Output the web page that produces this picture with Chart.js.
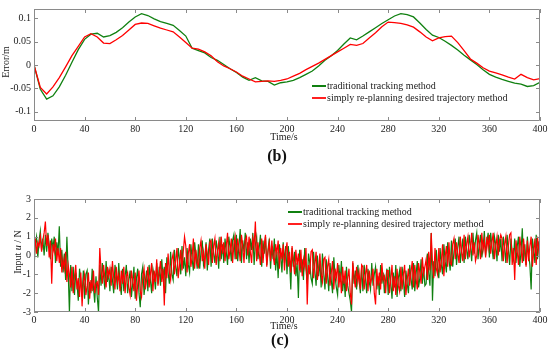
<!DOCTYPE html>
<html>
<head>
<meta charset="utf-8">
<script src="https://cdn.jsdelivr.net/npm/chart.js@4.4.0/dist/chart.umd.min.js"></script>
<style>
  html, body { margin: 0; padding: 0; background: #fff; }
  #wrap { position: relative; width: 550px; height: 357px; overflow: hidden;
          font-family: "Liberation Serif", "Times New Roman", serif; color: #222; }
  canvas { position: absolute; left: 0; }
  .lbl { position: absolute; white-space: nowrap; line-height: 1; font-size: 10px;
         transform: translate(-50%, -50%); }
  .ytitle { transform: translate(-50%, -50%) rotate(-90deg); }
  .panel { font-weight: bold; font-size: 16px; color: #111; }
  .legend { position: absolute; font-size: 10px; line-height: 12px; white-space: nowrap; }
  .legend div { position: relative; height: 12px; padding-left: 15px; }
  .legend .sw { position: absolute; left: 0; top: 5px; width: 14px; height: 2px; }
</style>
</head>
<body>
<div id="wrap">
  <canvas id="chartB" width="550" height="145" style="top:0"></canvas>
  <canvas id="chartC" width="550" height="140" style="top:190px"></canvas>

  <div class="lbl ytitle" style="left:6px; top:62px">Error/m</div>
  <div class="lbl" style="left:284px; top:137px">Time/s</div>
  <div class="lbl panel" style="left:277px; top:156px">(b)</div>
  <div class="legend" style="left:312px; top:80px">
    <div><span class="sw" style="background:#108010"></span>traditional tracking method</div>
    <div><span class="sw" style="background:#ff2020"></span>simply re-planning desired trajectory method</div>
  </div>

  <div class="lbl ytitle" style="left:18px; top:252px">Input <i>u</i> / N</div>
  <div class="lbl" style="left:284px; top:326px">Time/s</div>
  <div class="lbl panel" style="left:280px; top:340px">(c)</div>
  <div class="legend" style="left:288px; top:206px">
    <div><span class="sw" style="background:#108010"></span>traditional tracking method</div>
    <div><span class="sw" style="background:#ff2020"></span>simply re-planning desired trajectory method</div>
  </div>
</div>

<script>
// tick labels
const timeTicks = [0, 40, 80, 120, 160, 200, 240, 280, 320, 360, 400];
const errorTicks = [-0.1, -0.05, 0, 0.05, 0.1];
const inputTicks = [-3, -2, -1, 0, 1, 2, 3];

// (b) tracking error, one sample every 5 s
const errorTime = Array.from({ length: 81 }, (_, i) => i * 5);
const errorTraditional = [
  0, -0.052, -0.073, -0.066, -0.047, -0.022, 0.006, 0.033, 0.055, 0.066,
  0.068, 0.060, 0.063, 0.070, 0.080, 0.092, 0.103, 0.110, 0.106, 0.099,
  0.093, 0.089, 0.085, 0.074, 0.062, 0.036, 0.031, 0.026, 0.016, 0.010,
  0.001, -0.008, -0.016, -0.026, -0.033, -0.027, -0.034, -0.035, -0.043, -0.038,
  -0.036, -0.033, -0.027, -0.020, -0.013, -0.002, 0.010, 0.020, 0.031, 0.045,
  0.058, 0.054, 0.062, 0.071, 0.080, 0.089, 0.097, 0.105, 0.110, 0.108,
  0.103, 0.090, 0.076, 0.064, 0.059, 0.051, 0.042, 0.032, 0.021, 0.011,
  0.001, -0.010, -0.020, -0.026, -0.031, -0.035, -0.039, -0.041, -0.046, -0.044,
  -0.037
];
const errorReplanned = [
  0, -0.048, -0.062, -0.047, -0.027, -0.004, 0.020, 0.040, 0.060, 0.067,
  0.060, 0.047, 0.046, 0.054, 0.063, 0.075, 0.087, 0.090, 0.089, 0.084,
  0.079, 0.075, 0.071, 0.060, 0.048, 0.036, 0.034, 0.028, 0.020, 0.007,
  -0.002, -0.008, -0.015, -0.024, -0.030, -0.036, -0.035, -0.034, -0.035, -0.033,
  -0.030, -0.024, -0.018, -0.010, -0.003, 0.004, 0.012, 0.020, 0.028, 0.036,
  0.044, 0.042, 0.046, 0.058, 0.069, 0.082, 0.092, 0.091, 0.089, 0.086,
  0.081, 0.071, 0.060, 0.052, 0.058, 0.061, 0.062, 0.048, 0.031, 0.013,
  0.004, -0.006, -0.013, -0.017, -0.021, -0.026, -0.030, -0.020, -0.027, -0.032,
  -0.029
];

// (c) control input, one sample every second (one row = 10 s)
const inputTime = Array.from({ length: 401 }, (_, i) => i);
const inputTraditional = [
  -0.7, 0.6, 1.0, -0.1, 0.8, 1.3, 0.3, 0.9, 0.0, 1.1,
  0.2, 1.2, 0.6, -0.2, 0.9, 0.4, 1.0, -0.4, 0.7, 0.1,
  1.55, -0.6, 0.3, -0.9, 0.1, -1.3, 1.0, -0.8, -3.0, -0.5,
  -1.9, -0.6, -2.1, -0.9, -1.5, -2.4, -0.7, -1.3, -2.2, -0.8,
  -2.3, -1.0, -0.8, -2.6, -1.4, -2.0, -0.7, -1.7, -2.5, -1.1,
  -2.2, -3.0, -0.5, -1.6, -0.4, -1.1, -1.8, -0.3, -1.4, -0.9,
  -1.9, -0.6, -1.3, -2.0, -0.5, -1.0, -1.8, -0.4, -1.5, -2.1,
  -0.7, -1.9, -1.1, -0.5, -2.0, -1.3, -0.8, -2.2, -1.5, -0.6,
  -2.3, -1.2, -0.7, -2.0, -2.75, -1.0, -0.6, -2.1, -1.4, -0.8,
  -1.9, -0.5, -1.3, -2.0, -0.7, -1.1, -1.8, -0.4, -1.5, -0.6,
  -1.6, -0.2, -1.2, -0.6, -2.0, -0.1, -0.9, -1.5, 0.2, -1.0,
  -1.3, 0.3, -0.6, -1.1, 0.4, -0.2, -1.0, 0.5, -0.7, -0.1,
  -1.1, 0.4, -0.5, -0.9, 0.6, -0.2, -0.8, 0.7, 0.0, -0.7,
  0.6, -0.7, 0.2, 0.8, -0.5, -0.1, 0.7, -0.8, 0.3, 0.9,
  -0.6, 0.9, 0.1, -0.4, 0.8, 0.3, -0.7, 1.0, -0.2, 0.6,
  -0.4, 0.9, 0.2, -0.5, 1.0, 0.4, -0.3, 0.8, 1.1, -0.2,
  1.1, -0.3, 0.5, 1.4, -0.4, 0.8, 0.2, 1.2, -0.2, 0.7,
  -0.4, 0.9, 0.3, 1.2, -0.5, 0.6, 1.0, -0.2, 0.4, 1.1,
  -0.6, 0.8, 0.1, 1.0, -0.5, 0.3, 0.9, -0.7, 0.5, -0.2,
  0.9, -0.8, 0.2, -1.2, 0.6, 0.0, -0.9, 0.7, -0.4, 0.5,
  -1.0, 0.5, -0.3, -1.8, 0.4, -0.6, 0.2, -1.1, -0.4, -2.25,
  0.3, -0.9, -0.2, -1.3, 0.4, -0.7, -1.5, 0.1, -0.4, -1.2,
  -1.5, 0.2, -0.8, -1.6, 0.0, -1.1, -0.3, -1.7, 0.1, -0.9,
  -1.8, -0.2, -1.0, -1.9, -0.4, -1.3, -2.0, -0.1, -1.1, -1.7,
  -2.1, -0.5, -1.4, -0.3, -1.9, -1.1, -2.2, -0.6, -1.6, -2.0,
  -2.4, -3.0, -0.4, -1.5, -0.8, -1.8, -0.5, -1.3, -2.0, -0.6,
  -1.9, -0.5, -1.2, -2.0, -0.7, -1.4, -1.8, -0.4, -1.6, -1.0,
  -0.6, -1.8, -1.1, -2.1, -0.5, -1.5, -0.9, -2.0, -1.3, -0.7,
  -2.1, -0.6, -1.4, -2.3, -0.9, -1.7, -0.5, -2.2, -1.2, -0.8,
  -1.9, -0.6, -1.3, -2.2, -0.8, -1.5, -2.0, -0.5, -1.2, -1.8,
  -0.4, -1.9, -1.0, -0.3, -1.7, -1.2, -0.2, -1.5, -0.6, -1.6,
  -1.5, 0.1, -0.9, -1.6, 1.2, -2.4, -0.3, -1.1, 0.3, -0.6,
  -1.2, 0.4, -0.5, -1.0, 0.6, -0.3, -0.9, 0.7, -0.2, -0.8,
  0.8, -0.6, 0.2, 0.9, -0.5, 0.4, 1.0, -0.4, 0.3, 0.9,
  -0.4, 1.0, 0.3, -0.2, 1.1, 0.5, -0.3, 1.2, 0.1, 0.8,
  1.2, -0.2, 0.6, 1.1, -0.1, 0.4, 1.3, 0.0, 0.7, 1.2,
  -0.1, 1.2, 0.5, -0.2, 1.0, 0.6, -0.3, 1.1, 0.2, 0.9,
  -0.3, 1.0, 0.4, -0.4, 1.1, 0.3, -0.5, 0.9, 0.2, -0.2,
  0.9, -0.4, 0.5, 1.0, -0.6, 0.2, 1.45, -0.3, 0.6, -0.5,
  1.0, 0.1, -0.5, -1.8, 0.9, 0.3, -0.4, 1.1, -0.2, 0.7,
  0.8
];
const inputReplanned = [
  0.3, 0.9, 0.1, 0.7, 0.5, 1.0, 0.2, 0.8, 1.2, 1.8,
  0.5, 1.1, -0.1, 0.8, -1.5, 0.6, 0.2, 0.9, -0.3, 0.4,
  -0.4, 0.4, -0.9, -0.2, -0.7, 0.2, -1.4, -0.5, -1.0, -1.7,
  -0.6, -2.0, -1.1, -0.5, -1.8, -1.2, -2.2, -0.9, -2.7, -1.4,
  -1.0, -2.1, -1.6, -0.9, -2.3, -1.3, -1.9, -0.8, -2.0, -1.5,
  -1.4, -2.1, 0.4, -0.8, -1.5, -0.5, -1.2, -1.7, -0.6, -1.1,
  -0.7, -1.6, -0.3, -1.2, -1.8, -0.6, -1.4, -1.0, -1.9, -0.8,
  -1.5, -0.6, -2.0, -1.1, -0.9, -1.7, -2.1, -0.8, -1.3, -1.9,
  -0.9, -2.4, -1.5, -0.8, -1.9, -2.2, -1.1, -0.7, -1.8, -1.3,
  -0.6, -1.7, -1.0, -0.4, -1.9, -0.8, -1.4, -0.2, -1.6, -0.9,
  -0.3, -1.4, -0.7, -2.65, -0.4, -1.2, 0.1, -0.9, -1.3, -0.2,
  0.1, -1.0, -0.3, 0.4, -1.2, -0.5, 0.3, -0.8, 0.2, 1.0,
  0.5, -0.9, 0.1, 0.6, -0.6, -0.1, 0.9, -0.7, 0.3, -0.4,
  -0.6, 0.4, 0.8, -0.3, 0.2, -0.7, 0.6, 0.1, -0.5, 0.7,
  0.8, -0.4, 0.5, 0.9, -0.5, 0.2, 0.7, -0.3, 1.0, 0.1,
  0.7, -0.3, 0.5, 1.2, -0.2, 0.3, 0.9, -0.4, 0.6, 1.0,
  -0.2, 0.9, 0.4, -0.3, 1.1, 0.5, -0.4, 0.8, 1.0, 0.0,
  1.0, 0.2, -0.4, 0.9, 0.5, 1.8, -0.3, 0.7, 0.1, -0.5,
  0.9, -0.4, 0.5, 1.1, -0.6, 0.2, 0.7, -0.3, 0.8, 0.0,
  -0.5, 0.6, 0.1, 0.8, -0.7, 0.4, -0.2, 0.6, -0.8, 0.2,
  0.7, -0.6, 0.2, -0.9, 0.5, -0.3, -1.0, 0.3, -0.5, 0.1,
  -0.8, 0.3, -1.1, -0.2, -0.6, 0.4, -2.6, -0.5, -1.0, 0.2,
  0.3, -1.2, -0.5, 0.2, -1.3, -0.7, 0.1, -1.0, -1.4, -0.2,
  -0.1, -1.5, -0.6, -0.2, -1.6, -0.9, -0.3, -1.8, -0.7, -1.2,
  -0.4, -1.7, -0.9, -2.0, -0.6, -1.5, -0.8, -1.9, -1.2, -0.7,
  -2.0, -2.6, -0.3, -1.2, -1.7, -0.6, -1.4, -0.9, -1.8, -0.5,
  -0.6, -1.8, -1.0, -0.5, -1.9, -0.8, -1.5, -1.2, -0.7, -2.0,
  -2.6, -0.7, -1.6, -0.9, -1.8, -0.4, -1.3, -1.1, -2.0, -0.8,
  -0.8, -2.0, -1.3, -0.5, -1.9, -1.1, -2.1, -0.7, -1.6, -1.9,
  -0.6, -1.8, -1.0, -0.5, -2.1, -1.3, -0.7, -1.6, -0.9, -0.3,
  -1.7, -0.5, -1.2, -1.8, -0.4, -0.9, -1.5, -0.1, -1.0, -0.6,
  -0.2, -1.3, 0.2, -0.8, 1.2, -0.4, -1.2, 0.4, -0.7, -1.0,
  0.4, -0.9, -0.3, 0.6, -1.1, -0.1, 0.5, -0.6, 0.7, -0.4,
  -0.5, 0.6, 0.9, -0.2, 0.7, 0.1, -0.4, 1.0, 0.2, -0.3,
  1.1, -0.2, 0.6, 1.0, -0.1, 0.4, 1.2, 0.0, 0.7, -0.3,
  0.0, 1.1, 0.5, -0.2, 1.2, 0.3, 0.8, -0.1, 1.0, 0.4,
  1.1, 0.1, 0.7, 1.2, -0.2, 0.5, 1.0, 0.0, 0.8, 1.1,
  0.9, -0.3, 0.6, 1.0, -0.4, 0.5, 1.1, 1.2, -0.5, 0.4,
  -1.3, 0.8, 0.2, -0.5, 1.0, 0.4, -0.4, 0.9, 0.1, -0.6,
  0.8, -0.3, 0.5, 1.0, -0.6, 0.2, 0.9, -0.5, 1.0, 0.3,
  -0.3
];

const GREEN = '#108010';
const RED = '#ff0000';
const TICK_FONT = { family: "'Liberation Serif', 'Times New Roman', serif", size: 10 };

// box round the plot with inward ticks on all four sides
const framePlugin = {
  id: 'frame',
  afterDraw(chart) {
    const { ctx, chartArea: a, scales } = chart;
    ctx.save();
    ctx.strokeStyle = '#8a8a8a';
    ctx.lineWidth = 1;
    ctx.beginPath();
    ctx.rect(a.left + 0.5, a.top + 0.5, a.right - a.left - 1, a.bottom - a.top - 1);
    scales.x.ticks.forEach(t => {
      const px = Math.round(scales.x.getPixelForValue(t.value)) + 0.5;
      ctx.moveTo(px, a.top); ctx.lineTo(px, a.top + 4);
      ctx.moveTo(px, a.bottom); ctx.lineTo(px, a.bottom - 4);
    });
    scales.y.ticks.forEach(t => {
      const py = Math.round(scales.y.getPixelForValue(t.value)) + 0.5;
      ctx.moveTo(a.left, py); ctx.lineTo(a.left + 4, py);
      ctx.moveTo(a.right, py); ctx.lineTo(a.right - 4, py);
    });
    ctx.stroke();
    ctx.restore();
  }
};

function points(xs, ys) {
  return xs.map((x, i) => ({ x: x, y: ys[i] }));
}

function makeChart(id, opts) {
  return new Chart(document.getElementById(id), {
    type: 'line',
    data: {
      datasets: [
        { label: 'traditional tracking method', data: points(opts.time, opts.green),
          borderColor: GREEN, borderWidth: opts.lineWidth, order: 1 },
        { label: 'simply re-planning desired trajectory method', data: points(opts.time, opts.red),
          borderColor: RED, borderWidth: opts.lineWidth, order: 0 }
      ]
    },
    options: {
      responsive: false,
      animation: false,
      layout: { padding: { top: opts.padTop, right: 10, left: 0, bottom: 0 } },
      elements: { point: { radius: 0 }, line: { tension: 0 } },
      plugins: { legend: { display: false }, tooltip: { enabled: false } },
      scales: {
        x: {
          type: 'linear', min: 0, max: 400,
          afterBuildTicks: s => { s.ticks = timeTicks.map(v => ({ value: v })); },
          afterFit: s => { s.height = opts.xHeight; },
          grid: { display: false, drawTicks: false },
          border: { display: false },
          ticks: { font: TICK_FONT, color: '#222', padding: 2, maxRotation: 0 }
        },
        y: {
          min: opts.yMin, max: opts.yMax,
          afterBuildTicks: s => { s.ticks = opts.yTicks.map(v => ({ value: v })); },
          afterFit: s => { s.width = 34; },
          grid: { display: false, drawTicks: false },
          border: { display: false },
          ticks: { font: TICK_FONT, color: '#222', padding: 3, callback: v => String(v) }
        }
      }
    },
    plugins: [framePlugin]
  });
}

makeChart('chartB', {
  time: errorTime, green: errorTraditional, red: errorReplanned,
  yMin: -0.12, yMax: 0.12, yTicks: errorTicks,
  padTop: 4, xHeight: 24, lineWidth: 1.3
});

makeChart('chartC', {
  time: inputTime, green: inputTraditional, red: inputReplanned,
  yMin: -3, yMax: 3, yTicks: inputTicks,
  padTop: 5, xHeight: 18, lineWidth: 1.2
});
</script>
</body>
</html>
